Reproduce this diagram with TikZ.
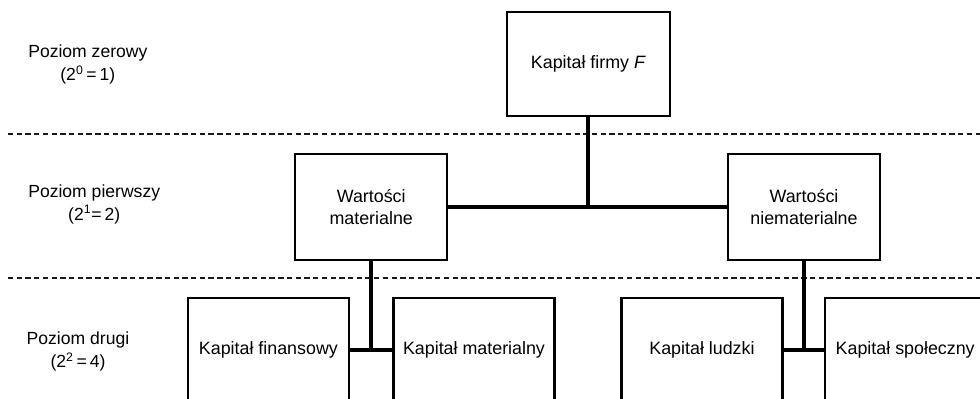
\documentclass[tikz,border=0pt]{standalone}
\usepackage{fontspec}
\setmainfont{Liberation Sans}
\usetikzlibrary{positioning,calc}
\tikzset{
  bx/.style={draw=black, line width=1.6pt, fill=white, align=center, inner sep=2pt,
    font=\fontsize{12.7}{15.6}\selectfont},
  top/.style={bx, minimum width=4.07cm, minimum height=2.6cm},
  mid/.style={bx, minimum width=3.8cm, minimum height=2.65cm},
  low/.style={bx, minimum width=4.02cm, minimum height=2.6cm},
  lvl/.style={anchor=west, align=center, inner sep=0pt, font=\fontsize{12.5}{16.4}\selectfont},
  conn/.style={line width=2.8pt, color=black},
  sep/.style={line width=0.8pt, dash pattern=on 3.8pt off 2.4pt, color=black!90},
}
\begin{document}
\begin{tikzpicture}
  \clip (0,0) rectangle (24.5,9.95);
  \fill[white] (0,0) rectangle (24.5,9.95);
  % level separators
  \coordinate (s1a) at (0.2,6.6);  \coordinate (s1b) at (24.5,6.6);
  \coordinate (s2a) at (0.2,3.0);  \coordinate (s2b) at (24.5,3.0);
  \draw[sep] (s1a) -- (s1b);
  \draw[sep] (s2a) -- (s2b);
  % level labels
  \node[lvl] (l0) at (0.7,8.33) {Poziom zerowy\\(2\textsuperscript{0}\,=\,1)};
  \node[lvl] (l1) at (0.7,4.85) {Poziom pierwszy\\(2\textsuperscript{1}=\,2)};
  \node[lvl] (l2) at (0.66,1.16) {Poziom drugi\\(2\textsuperscript{2}\,=\,4)};
  % tree
  \node[top] (kf) at (14.71,8.35) {Kapitał firmy \textit{F}};
  \node[mid] (wm) at (9.28,4.77) {Wartości\\materialne};
  \node[mid] (wn) at (20.1,4.77) {Wartości\\niematerialne};
  \node[low] (kfin) at (6.71,1.2) {Kapitał finansowy};
  \node[low] (kmat) at (11.85,1.2) {Kapitał materialny};
  \node[low] (klud) at (17.55,1.2) {Kapitał ludzki};
  \node[low] (kspo) at (22.63,1.2) {Kapitał społeczny};
  \draw[conn] (wm.east) -- (wn.west);
  \draw[conn] (kf.south) -- (kf.south |- wm.east);
  \draw[conn] (kfin.east) -- (kmat.west);
  \draw[conn] (wm.south) -- (wm.south |- kfin.east);
  \draw[conn] (klud.east) -- (kspo.west);
  \draw[conn] (wn.south) -- (wn.south |- klud.east);
\end{tikzpicture}
\end{document}
